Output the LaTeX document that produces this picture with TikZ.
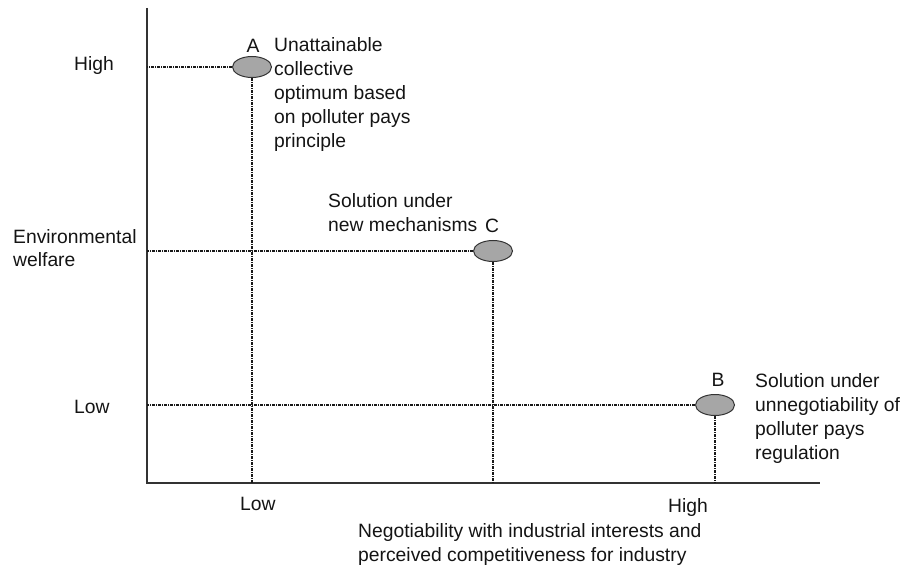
\documentclass[tikz,border=0pt]{standalone}
\usepackage{fontspec}
\setmainfont{Liberation Sans}
\usetikzlibrary{shapes.geometric}
\begin{document}
\begin{tikzpicture}[x=1pt,y=-1pt,
  lbl/.style={font=\fontsize{19.3}{24}\selectfont, inner sep=0pt, align=left, text=black!92},
  pt/.style={ellipse, draw=black!80, fill=black!35, line width=1pt, minimum width=39pt, minimum height=21pt, inner sep=0pt},
  guide/.style={line width=1.3pt, dash pattern=on 3pt off 1pt on 1pt off 1pt, draw=black!90},
  axis/.style={line width=1.3pt, draw=black!80}]
\useasboundingbox (0,0) rectangle (907,569);
% axes
\coordinate (o) at (147,483);
\coordinate (ytop) at (147,8);
\coordinate (xend) at (820,483);
\draw[axis] (ytop) -- (o) -- (xend);
% points
\node[pt] (A) at (252,67) {};
\node[pt] (C) at (493,251) {};
\node[pt] (B) at (715,405) {};
% guides
\draw[guide] (A.west) -- (A.west -| o);
\draw[guide] (A.south) -- (A.south |- o);
\draw[guide] (C.west) -- (C.west -| o);
\draw[guide] (C.south) -- (C.south |- o);
\draw[guide] (B.west) -- (B.west -| o);
\draw[guide] (B.south) -- (B.south |- o);
% point labels (base anchor of multi-line nodes = last line)
\node[lbl, anchor=base] (la) at (253,53) {A};
\node[lbl, anchor=base west] (ta) at (274,148) {Unattainable\\collective\\optimum based\\on polluter pays\\principle};
\node[lbl, anchor=base] (lc) at (492,233) {C};
\node[lbl, anchor=base west] (tc) at (328,232) {Solution under\\new mechanisms};
\node[lbl, anchor=base] (lb) at (718,386) {B};
\node[lbl, anchor=base west] (tb) at (755,459) {Solution under\\unnegotiability of\\polluter pays\\regulation};
% y-axis labels
\node[lbl, anchor=base west] (yhigh) at (74,71) {High};
\node[lbl, anchor=base west] (yenv) at (13,267) {Environmental\\welfare};
\node[lbl, anchor=base west] (ylow) at (74,413) {Low};
% x-axis labels
\node[lbl, anchor=base west] (xlow) at (240,510) {Low};
\node[lbl, anchor=base east] (xhigh) at (708,512) {High};
\node[lbl, anchor=base west] (xtitle) at (358,561) {Negotiability with industrial interests and\\perceived competitiveness for industry};
\end{tikzpicture}
\end{document}
